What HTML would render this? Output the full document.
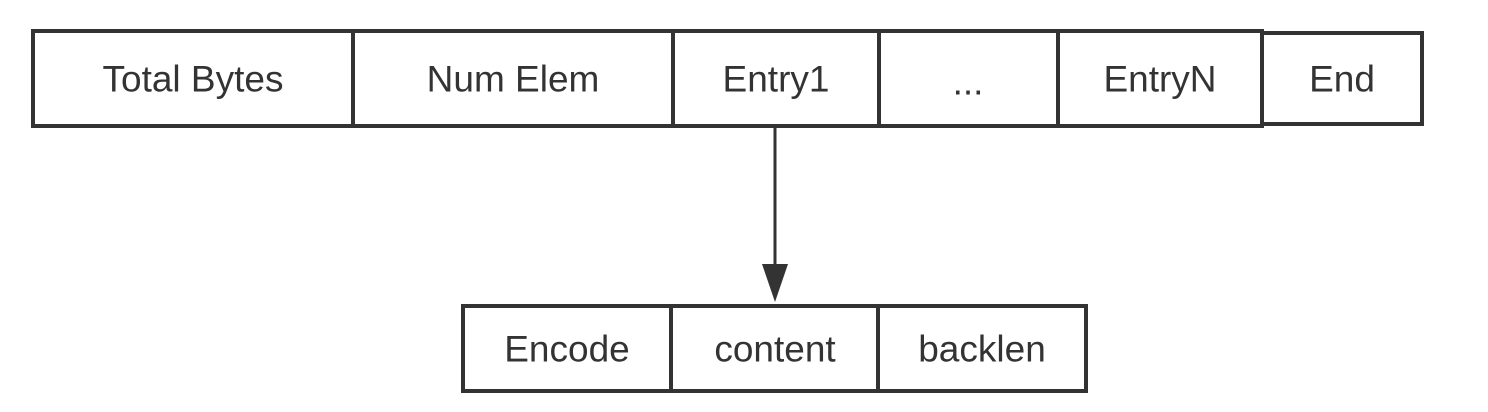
<!DOCTYPE html>
<html><head><meta charset="utf-8"><style>
html,body{margin:0;padding:0;background:#fff;}
svg{display:block;}
text{font-family:"Liberation Sans","DejaVu Sans",sans-serif;font-size:37px;fill:#333;text-anchor:middle;dominant-baseline:central;}
</style></head><body>
<svg width="1488" height="412" viewBox="0 0 1488 412">
<g fill="none" stroke="#333" stroke-width="4">
<rect x="33" y="31" width="1229" height="95"/>
<line x1="353" y1="31" x2="353" y2="126"/>
<line x1="673" y1="31" x2="673" y2="126"/>
<line x1="879" y1="31" x2="879" y2="126"/>
<line x1="1058" y1="31" x2="1058" y2="126"/>
<rect x="1262" y="33" width="160" height="91"/>
<rect x="463" y="306" width="623" height="85"/>
<line x1="671" y1="306" x2="671" y2="391"/>
<line x1="878" y1="306" x2="878" y2="391"/>
<line x1="775" y1="126" x2="775" y2="266" stroke-width="3"/>
</g>
<polygon points="762,264 788,264 775,302" fill="#333"/>
<text x="193" y="79">Total Bytes</text>
<text x="513" y="79">Num Elem</text>
<text x="776" y="79">Entry1</text>
<text x="968" y="82">...</text>
<text x="1160" y="79">EntryN</text>
<text x="1342" y="79">End</text>
<text x="567" y="349">Encode</text>
<text x="775" y="349">content</text>
<text x="982" y="349">backlen</text>
</svg>
</body></html>
